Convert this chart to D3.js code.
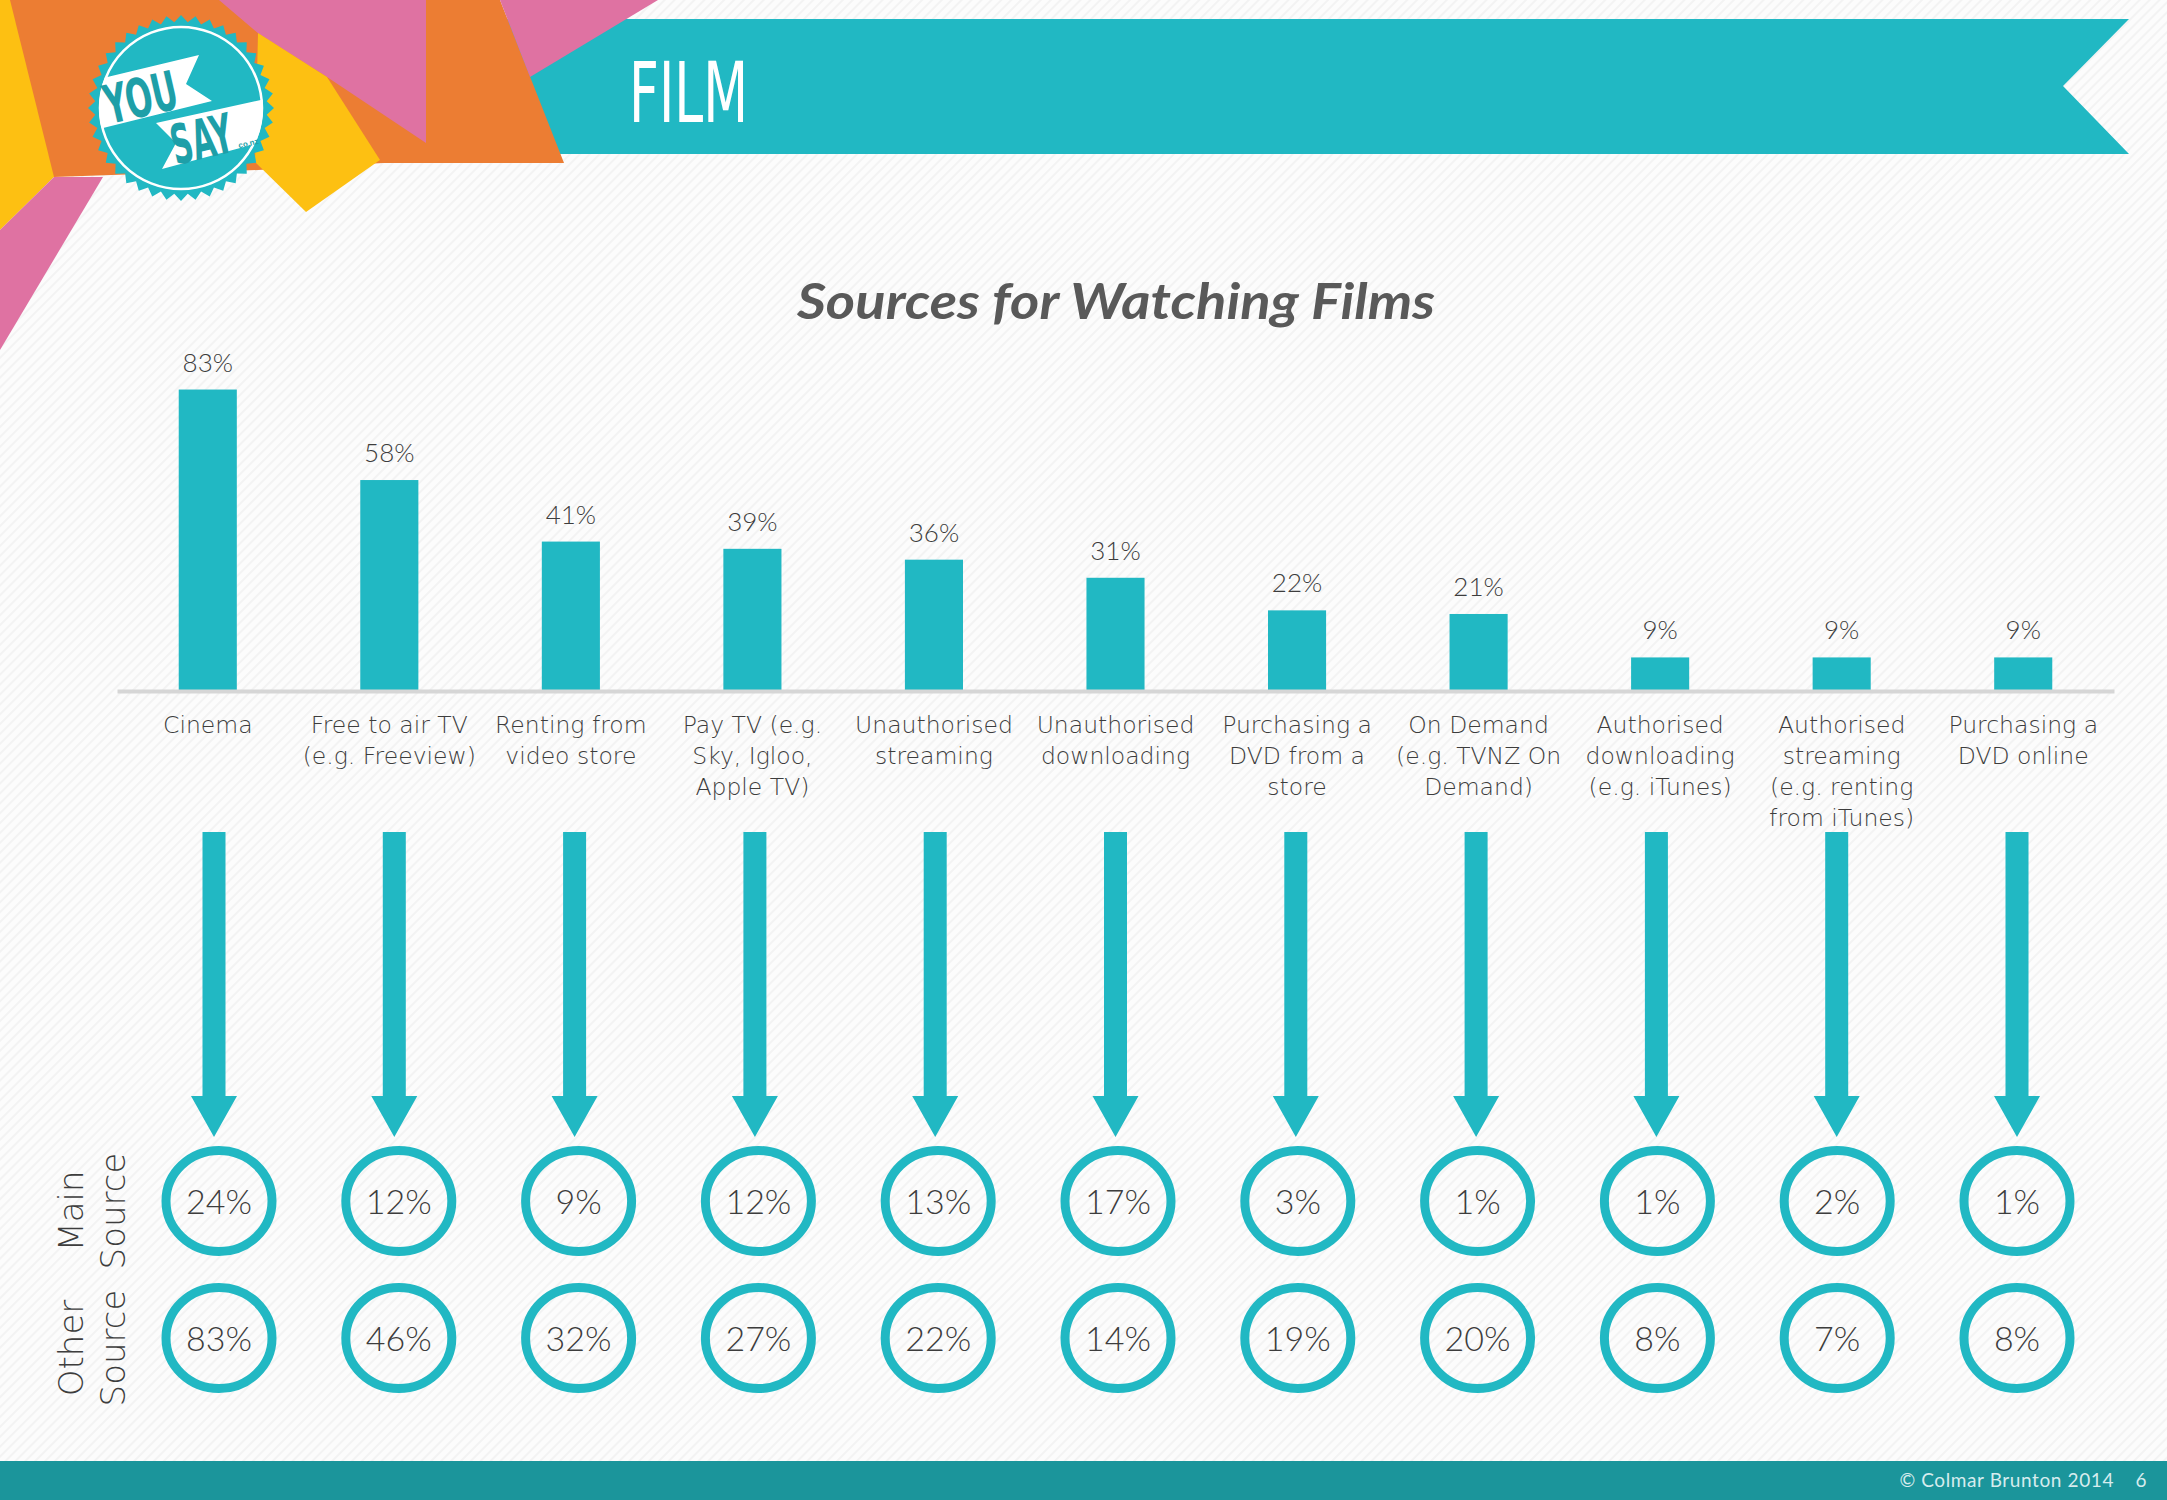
<!DOCTYPE html>
<html><head><meta charset="utf-8">
<script src="https://cdn.jsdelivr.net/npm/d3@7"></script>
<style>html,body{margin:0;padding:0;background:#fff;} svg{display:block;}</style>
</head><body>
<svg id="chart" width="2167" height="1500"></svg>
<script>
// ---------- DATA ----------
const categoryLines = [
  ["Cinema"],
  ["Free to air TV", "(e.g. Freeview)"],
  ["Renting from", "video store"],
  ["Pay TV (e.g.", "Sky, Igloo,", "Apple TV)"],
  ["Unauthorised", "streaming"],
  ["Unauthorised", "downloading"],
  ["Purchasing a", "DVD from a", "store"],
  ["On Demand", "(e.g. TVNZ On", "Demand)"],
  ["Authorised", "downloading", "(e.g. iTunes)"],
  ["Authorised", "streaming", "(e.g. renting", "from iTunes)"],
  ["Purchasing a", "DVD online"]
];
const categories = categoryLines.map(d => d.join(" "));
const totalPct = [83, 58, 41, 39, 36, 31, 22, 21, 9, 9, 9];
const mainSourcePct = [24, 12, 9, 12, 13, 17, 3, 1, 1, 2, 1];
const otherSourcePct = [83, 46, 32, 27, 22, 14, 19, 20, 8, 7, 8];
const rowNames = ["Main Source", "Other Source"];
const rowLabelLines = [["Main", "Source"], ["Other", "Source"]];
const sectionTitle = "FILM";
const chartTitle = "Sources for Watching Films";
const footerText = "\u00A9 Colmar Brunton 2014";
const pageNumber = "6";

// ---------- STYLE ----------
const TEAL = "#21B8C3", ORANGE = "#EC7D33", PINK = "#DF72A2", YELLOW = "#FDC012",
      FOOT = "#1B959B", TEXT = "#3d3d3d", LOGOTXT = "#1E9FA8";
const NUMFONT = "Lato, 'Open Sans', sans-serif";
const LBLFONT = "'DejaVu Sans', Verdana, sans-serif";
const NARROW = "'Liberation Sans Narrow','DejaVu Sans Condensed',sans-serif";

const svg = d3.select("#chart");
const defs = svg.append("defs");

// subtle striped background
const pat = defs.append("pattern").attr("id", "stripes").attr("patternUnits", "userSpaceOnUse")
  .attr("width", 7).attr("height", 7).attr("patternTransform", "rotate(45)");
pat.append("rect").attr("width", 7).attr("height", 7).attr("fill", "#fcfcfc");
pat.append("rect").attr("width", 2).attr("height", 7).attr("fill", "#f3f3f3");
svg.append("rect").attr("width", 2167).attr("height", 1500).attr("fill", "url(#stripes)");

// ---------- HEADER DECORATION ----------
const line = d3.line();
const deco = svg.append("g");
deco.append("path").attr("fill", TEAL)
  .attr("d", line([[480,19],[2129,19],[2063,86],[2129,154],[480,154]]) + "Z");
deco.append("path").attr("fill", ORANGE)
  .attr("d", line([[0,0],[500,0],[564,163],[383,163],[258,170],[54,177],[0,177]]) + "Z");
deco.append("path").attr("fill", YELLOW)
  .attr("d", line([[0,0],[10,0],[54,177],[0,230]]) + "Z");
deco.append("path").attr("fill", PINK)
  .attr("d", line([[0,230],[54,177],[103,177],[0,350]]) + "Z");
deco.append("path").attr("fill", PINK)
  .attr("d", line([[219,0],[426,0],[426,143],[327,77],[259,34]]) + "Z");
deco.append("path").attr("fill", YELLOW)
  .attr("d", line([[258,33],[327,77],[380,160],[306,212],[255,162]]) + "Z");
deco.append("path").attr("fill", PINK)
  .attr("d", line([[500,0],[658,0],[530,77]]) + "Z");

// badge
const bc = [181, 108];
const teeth = 40;
const badgePts = d3.range(teeth * 2).map(i => {
  const a = i * Math.PI / teeth;
  const r = i % 2 === 0 ? 93 : 86;
  return [bc[0] + r * Math.sin(a), bc[1] - r * Math.cos(a)];
});
const badge = svg.append("g");
badge.append("path").attr("fill", TEAL).attr("d", line(badgePts) + "Z");
badge.append("circle").attr("cx", bc[0]).attr("cy", bc[1]).attr("r", 81)
  .attr("fill", TEAL).attr("stroke", "#fff").attr("stroke-width", 2.5);
defs.append("clipPath").attr("id", "badgeClip").append("circle")
  .attr("cx", bc[0]).attr("cy", bc[1]).attr("r", 82);
const rib = badge.append("g").attr("clip-path", "url(#badgeClip)");
rib.append("path").attr("fill", "#fff")
  .attr("d", line([[95,80],[199,55],[186,84],[212,101],[95,130]]) + "Z");
rib.append("path").attr("fill", "#fff")
  .attr("d", line([[156,123],[270,98],[270,140],[162,169],[176,143]]) + "Z");
badge.append("text").text("YOU").attr("transform", "translate(145,116) rotate(-13)")
  .attr("text-anchor", "middle").attr("font-family", NARROW)
  .attr("font-weight", "bold").attr("font-size", 54).attr("fill", LOGOTXT)
  .attr("textLength", 74).attr("lengthAdjust", "spacingAndGlyphs");
badge.append("text").text("SAY").attr("transform", "translate(206,158) rotate(-13)")
  .attr("text-anchor", "middle").attr("font-family", NARROW)
  .attr("font-weight", "bold").attr("font-size", 55).attr("fill", LOGOTXT)
  .attr("textLength", 62).attr("lengthAdjust", "spacingAndGlyphs");
badge.append("text").text("co.nz").attr("transform", "translate(249,146) rotate(-13)")
  .attr("text-anchor", "middle").attr("font-family", "sans-serif")
  .attr("font-weight", "bold").attr("font-size", 8).attr("fill", LOGOTXT);

// section title
svg.append("text").text(sectionTitle).attr("x", 629).attr("y", 122)
  .attr("font-family", NARROW)
  .attr("font-size", 84).attr("fill", "#fff")
  .attr("textLength", 119).attr("lengthAdjust", "spacingAndGlyphs");

// chart title
svg.append("text").text(chartTitle).attr("x", 1116).attr("y", 319)
  .attr("text-anchor", "middle").attr("font-family", NUMFONT)
  .attr("font-weight", "bold").attr("font-style", "italic").attr("font-size", 50)
  .attr("fill", "#595959")
  .attr("textLength", 638).attr("lengthAdjust", "spacingAndGlyphs");

// ---------- SCALES ----------
const x = d3.scaleBand().domain(categories).range([117, 2114]).paddingInner(0.68).paddingOuter(0.34);
const y = d3.scaleLinear().domain([0, 100]).range([690, 328]);
const xArrow = d3.scalePoint().domain(categories).range([214, 2017]);
const xCircle = d3.scalePoint().domain(categories).range([219, 2017]);
const rowY = d3.scalePoint().domain(rowNames).range([1201, 1338]);

// ---------- BARS ----------
const data = categories.map((c, i) => ({
  cat: c, lines: categoryLines[i], total: totalPct[i],
  main: mainSourcePct[i], other: otherSourcePct[i]
}));

svg.append("g").selectAll("rect").data(data).join("rect")
  .attr("x", d => x(d.cat)).attr("width", x.bandwidth())
  .attr("y", d => y(d.total)).attr("height", d => y(0) - y(d.total))
  .attr("fill", TEAL);

const axis = svg.append("g").attr("transform", `translate(0,${y(0) + 1})`)
  .call(d3.axisBottom(x).tickSize(0).tickSizeOuter(0).tickFormat(() => ""));
axis.select(".domain").attr("stroke", "#d6d6d6").attr("stroke-width", 4);

svg.append("g").selectAll("text").data(data).join("text")
  .attr("x", d => x(d.cat) + x.bandwidth() / 2).attr("y", d => y(d.total) - 18)
  .attr("text-anchor", "middle").attr("font-family", NUMFONT).attr("font-size", 26)
  .attr("font-weight", 300).attr("fill", TEXT).text(d => d.total + "%");

const lbl = svg.append("g").selectAll("text").data(data).join("text")
  .attr("text-anchor", "middle").attr("font-family", LBLFONT).attr("font-size", 23.5)
  .attr("font-weight", 300).attr("fill", TEXT);
lbl.selectAll("tspan").data(d => d.lines.map(l => ({ l, cx: x(d.cat) + x.bandwidth() / 2 })))
  .join("tspan").attr("x", d => d.cx).attr("y", (d, i) => 733 + i * 31).text(d => d.l);

// ---------- ARROWS ----------
function arrowPath(cx) {
  const p = d3.path();
  const sw = 11.5, hw = 23, top = 832, neck = 1096, tip = 1137;
  p.moveTo(cx - sw, top); p.lineTo(cx + sw, top); p.lineTo(cx + sw, neck);
  p.lineTo(cx + hw, neck); p.lineTo(cx, tip); p.lineTo(cx - hw, neck);
  p.lineTo(cx - sw, neck); p.closePath();
  return p.toString();
}
svg.append("g").selectAll("path").data(data).join("path")
  .attr("d", d => arrowPath(xArrow(d.cat))).attr("fill", TEAL);

// ---------- CIRCLES ----------
const rows = [
  { name: rowNames[0], key: "main", lines: rowLabelLines[0] },
  { name: rowNames[1], key: "other", lines: rowLabelLines[1] }
];
rows.forEach(r => {
  const g = svg.append("g");
  g.selectAll("ellipse").data(data).join("ellipse")
    .attr("cx", d => xCircle(d.cat)).attr("cy", rowY(r.name))
    .attr("rx", 53).attr("ry", 50.5).attr("fill", "none")
    .attr("stroke", TEAL).attr("stroke-width", 9);
  g.selectAll("text").data(data).join("text")
    .attr("x", d => xCircle(d.cat)).attr("y", rowY(r.name) + 13)
    .attr("text-anchor", "middle").attr("font-family", NUMFONT).attr("font-size", 34)
    .attr("font-weight", 300).attr("fill", TEXT).text(d => d[r.key] + "%");
  const lg = svg.append("g");
  lg.selectAll("text").data(r.lines).join("text")
    .attr("transform", (d, i) => `translate(${83 + i * 42},${rowY(r.name) + 10}) rotate(-90)`)
    .attr("text-anchor", "middle").attr("font-family", LBLFONT).attr("font-size", 34)
    .attr("font-weight", 300).attr("fill", TEXT).text(d => d);
});

// ---------- FOOTER ----------
svg.append("rect").attr("x", 0).attr("y", 1461).attr("width", 2167).attr("height", 39).attr("fill", FOOT);
svg.append("text").text(footerText).attr("x", 2114).attr("y", 1487).attr("text-anchor", "end")
  .attr("font-family", NUMFONT).attr("font-size", 19).attr("letter-spacing", 0.6).attr("fill", "#d6ecee");
svg.append("text").text(pageNumber).attr("x", 2141).attr("y", 1487).attr("text-anchor", "middle")
  .attr("font-family", NUMFONT).attr("font-size", 19).attr("fill", "#d6ecee");
</script>
</body></html>
